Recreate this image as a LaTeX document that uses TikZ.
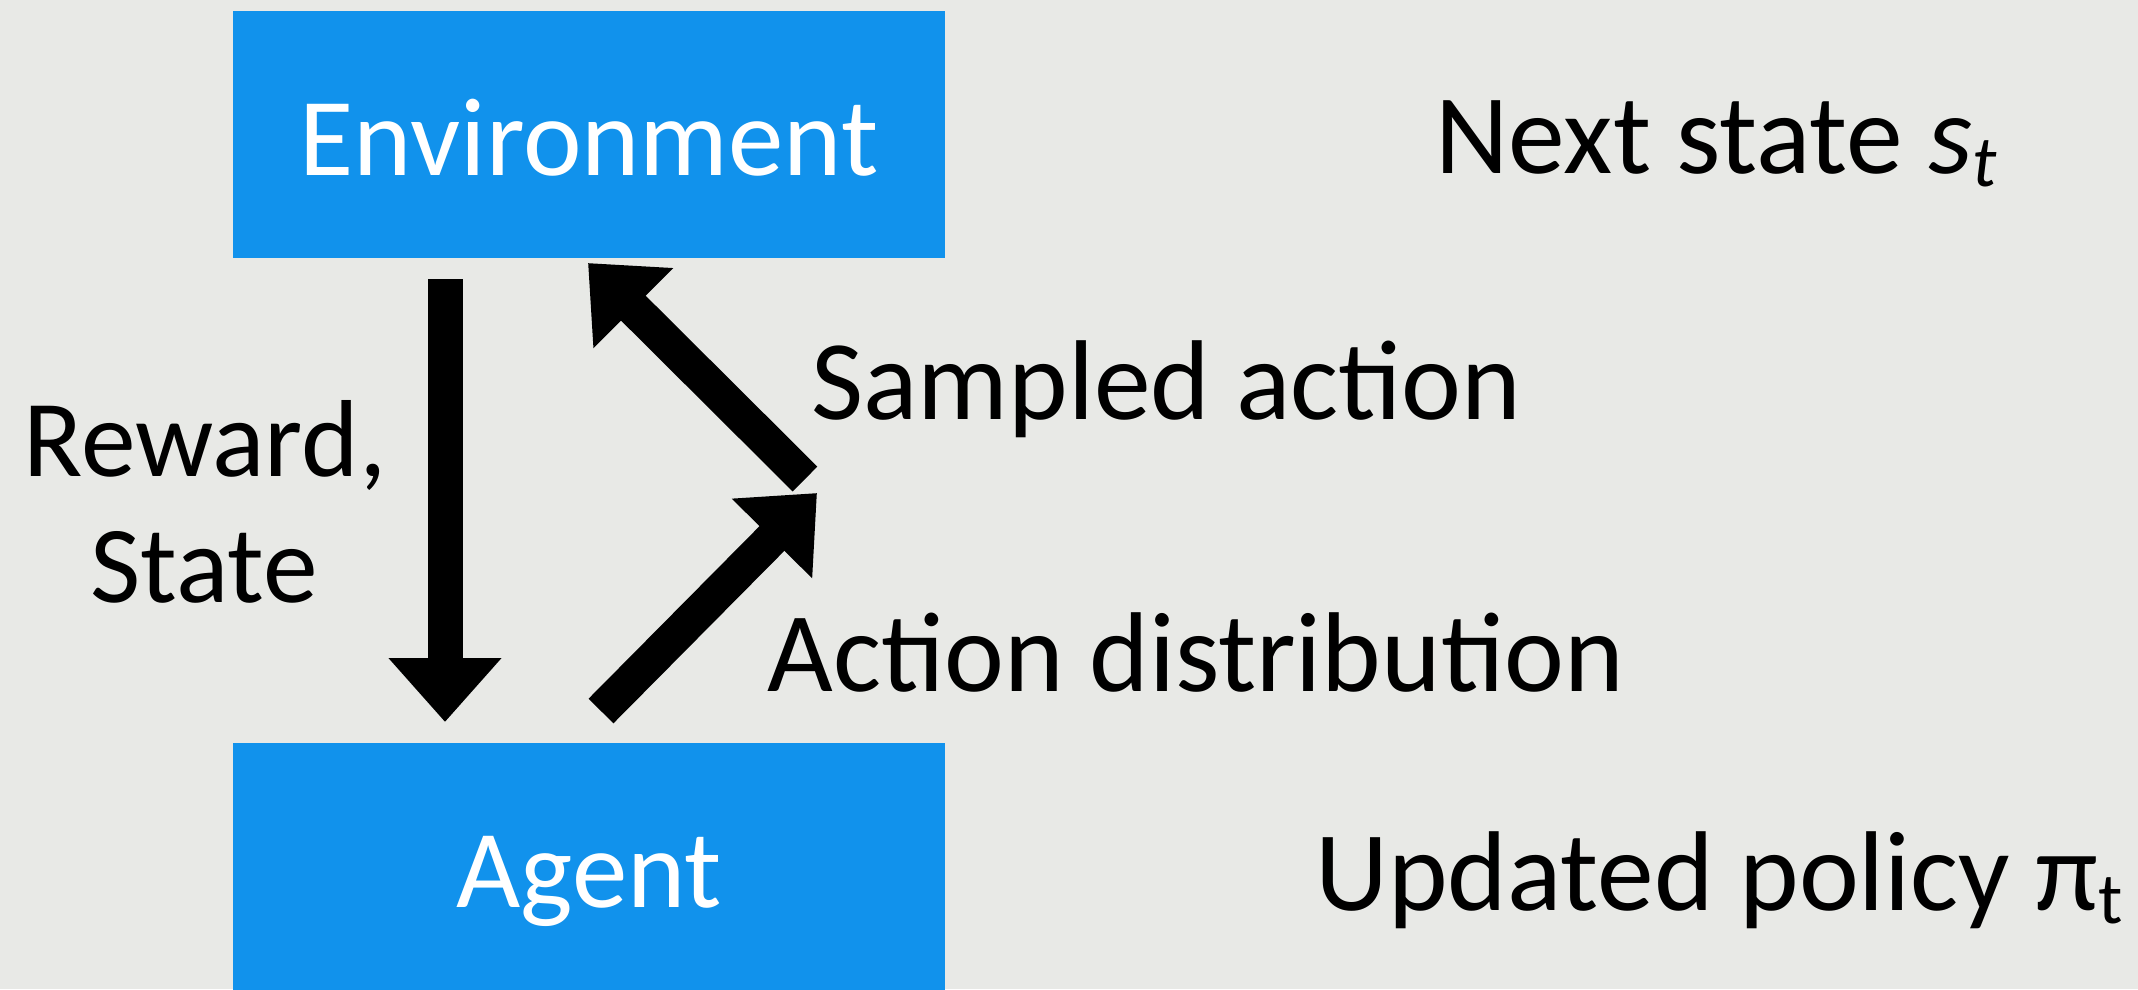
\documentclass[tikz,border=0pt]{standalone}
\usepackage{fontspec}
\setmainfont{Carlito}
\usetikzlibrary{arrows.meta}
\definecolor{pagebg}{RGB}{232,233,230}
\definecolor{boxblue}{RGB}{17,146,236}
% lowered, smaller index letter
\newcommand\lowsub[1]{\raisebox{-0.12em}{\fontsize{29}{29}\selectfont #1}}
\begin{document}
\begin{tikzpicture}[x=0.4pt,y=-0.4pt,
  box/.style={fill=boxblue, draw=none, minimum width=284.8pt, minimum height=98.8pt,
    inner sep=0pt, text height=32.8pt, text depth=0pt, text=white,
    font=\fontsize{44.4}{44.4}\selectfont},
  lbl/.style={inner sep=0pt, anchor=base west, font=\fontsize{45.4}{45.4}\selectfont},
  clbl/.style={lbl, anchor=base, font=\fontsize{43.8}{43.8}\selectfont},
  bigarrow/.style={line width=14pt, -{Triangle[width=43.6pt,length=25.6pt]}}]
\fill[pagebg] (0,0) rectangle (2138,989);
\useasboundingbox (0,0) rectangle (2138,989);

% the two blocks
\node[box] (env) at (589,134) {Environment};
\node[box] (agent) at (589,866) {Agent};

% arrow end points
\coordinate (rsA) at (445,279);
\coordinate (rsB) at (445,722);
\coordinate (saA) at (805,479);
\coordinate (saB) at (588,263);
\coordinate (adA) at (601,711);
\coordinate (adB) at (817,493);

\draw[bigarrow] (rsA) -- (rsB);
\draw[bigarrow] (saA) -- (saB);
\draw[bigarrow] (adA) -- (adB);

% labels
\node[clbl] (rw) at (205,476) {Reward,};
\node[clbl] (st) at (204,602) {State};
\node[lbl] (sa) at (811,419) {Sampled action};
\node[lbl] (ad) at (767,691) {Action distribution};
\node[lbl] (ns) at (1435,173) {Next state \textit{s}\lowsub{\textit{t}}};
\node[lbl] (up) at (1315,910) {Updated policy π\lowsub{t}};
\end{tikzpicture}
\end{document}
